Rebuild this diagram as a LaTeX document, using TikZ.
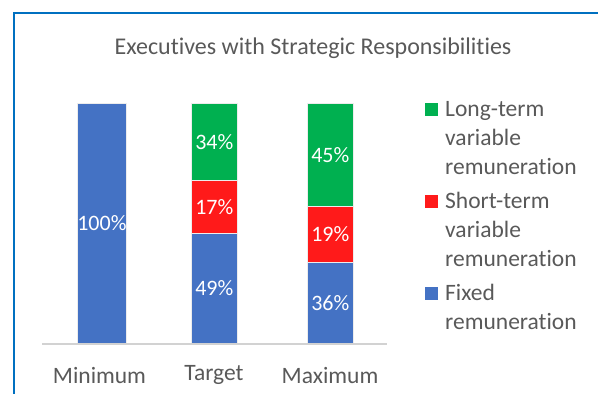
\documentclass[tikz,border=0pt]{standalone}
\usepackage{fontspec}
\setmainfont{Carlito}[Ligatures=NoCommon]
\definecolor{fixblue}{HTML}{4472C4}
\definecolor{shortred}{HTML}{FF1A1A}
\definecolor{longgreen}{HTML}{00B050}
\definecolor{txtgray}{HTML}{595959}
\definecolor{frameblue}{HTML}{0070C0}
\begin{document}
\begin{tikzpicture}[x=1pt, y=-1pt,
	seg/.style={rectangle, draw=white!85!gray, line width=0.6pt, minimum width=46pt, inner sep=0pt, anchor=north west, text=white, font=\fontsize{22}{26}\selectfont},
	lab/.style={text=txtgray, font=\fontsize{23.5}{29}\selectfont},
	key/.style={rectangle, minimum size=13pt, inner sep=0pt, anchor=south west},
	entry/.style={lab, align=left, anchor=north west, inner sep=0pt}]
	\useasboundingbox (0,0) rectangle (598,394);
	\draw[frameblue, line width=2pt] (14,394) -- (14,13) -- (598,13);

	\node[lab, font=\fontsize{24}{29}\selectfont] (title) at (313,48) {Executives with Strategic Responsibilities};

	\node[seg, fill=fixblue, minimum height=240pt] (min) at (77,103) {100\%};

	\node[seg, fill=longgreen, minimum height=77pt] (tgtlong) at (191,103) {34\%};
	\node[seg, fill=shortred, minimum height=53pt] (tgtshort) at (191,180) {17\%};
	\node[seg, fill=fixblue, minimum height=110pt] (tgtfix) at (191,233) {49\%};

	\node[seg, fill=longgreen, minimum height=103pt] (maxlong) at (307,103) {45\%};
	\node[seg, fill=shortred, minimum height=56pt] (maxshort) at (307,206) {19\%};
	\node[seg, fill=fixblue, minimum height=81pt] (maxfix) at (307,262) {36\%};

	\draw[gray!35, line width=1.5pt] (42,344) -- (387,344);

	\node[lab] (cmin) at (99.5,375) {Minimum};
	\node[lab] (ctgt) at (214,375) {Target};
	\node[lab] (cmax) at (330,375) {Maximum};

	\node[key, fill=longgreen] (klong) at (425,116.5) {};
	\node[entry] (elong) at (445,96.2) {\strut Long-term\\variable\\remuneration};
	\node[key, fill=shortred] (kshort) at (425,208.5) {};
	\node[entry] (eshort) at (445,188.2) {\strut Short-term\\variable\\remuneration};
	\node[key, fill=fixblue] (kfix) at (425,300) {};
	\node[entry] (efix) at (445,279.7) {\strut Fixed\\remuneration};
\end{tikzpicture}
\end{document}
